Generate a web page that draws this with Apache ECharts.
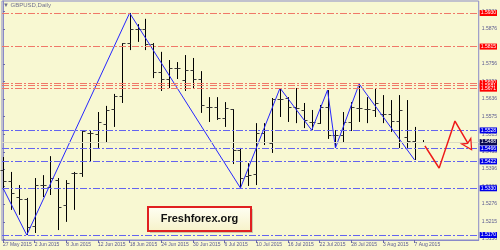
<!DOCTYPE html>
<html><head><meta charset="utf-8">
<script src="https://cdn.jsdelivr.net/npm/echarts@6/dist/echarts.min.js"></script>
<style>html,body{margin:0;padding:0;background:#f8f8d2}#c{width:500px;height:250px}</style>
</head><body><div id="c"></div>
<script>
const dates = ["27 May 2015","28 May 2015","29 May 2015","1 Jun 2015","2 Jun 2015","3 Jun 2015","4 Jun 2015","5 Jun 2015","8 Jun 2015","9 Jun 2015","10 Jun 2015","11 Jun 2015","12 Jun 2015","15 Jun 2015","16 Jun 2015","17 Jun 2015","18 Jun 2015","19 Jun 2015","22 Jun 2015","23 Jun 2015","24 Jun 2015","25 Jun 2015","26 Jun 2015","29 Jun 2015","30 Jun 2015","1 Jul 2015","2 Jul 2015","3 Jul 2015","6 Jul 2015","7 Jul 2015","8 Jul 2015","9 Jul 2015","10 Jul 2015","13 Jul 2015","14 Jul 2015","15 Jul 2015","16 Jul 2015","17 Jul 2015","20 Jul 2015","21 Jul 2015","22 Jul 2015","23 Jul 2015","24 Jul 2015","27 Jul 2015","28 Jul 2015","29 Jul 2015","30 Jul 2015","31 Jul 2015","3 Aug 2015","4 Aug 2015","5 Aug 2015","6 Aug 2015","7 Aug 2015","10 Aug 2015"];
const opens = [1.5393,1.5355,1.5300,1.5293,1.5201,1.5341,1.5334,1.5358,1.5273,1.5382,1.5382,1.5519,1.5516,1.5550,1.5601,1.5646,1.5827,1.5875,1.5875,1.5824,1.5728,1.5704,1.5742,1.5701,1.5735,1.5704,1.5608,1.5608,1.5571,1.5601,1.5461,1.5372,1.5379,1.5519,1.5485,1.5636,1.5639,1.5608,1.5598,1.5557,1.5553,1.5608,1.5512,1.5512,1.5557,1.5605,1.5601,1.5598,1.5584,1.5584,1.5560,1.5505,1.5492,1.5488];
const highs = [1.5437,1.5386,1.5341,1.5297,1.5365,1.5375,1.5440,1.5365,1.5358,1.5386,1.5529,1.5529,1.5591,1.5612,1.5653,1.5827,1.5930,1.5892,1.5910,1.5827,1.5797,1.5769,1.5762,1.5786,1.5776,1.5731,1.5642,1.5642,1.5625,1.5601,1.5468,1.5416,1.5553,1.5553,1.5639,1.5673,1.5642,1.5673,1.5622,1.5598,1.5615,1.5666,1.5529,1.5591,1.5625,1.5687,1.5642,1.5673,1.5649,1.5632,1.5649,1.5632,1.5540,1.5495];
const lows = [1.5324,1.5256,1.5239,1.5170,1.5177,1.5300,1.5307,1.5187,1.5215,1.5256,1.5369,1.5420,1.5468,1.5485,1.5540,1.5622,1.5803,1.5831,1.5803,1.5707,1.5663,1.5673,1.5704,1.5663,1.5673,1.5588,1.5557,1.5564,1.5540,1.5413,1.5331,1.5338,1.5341,1.5478,1.5451,1.5574,1.5557,1.5553,1.5536,1.5529,1.5550,1.5499,1.5468,1.5485,1.5526,1.5557,1.5553,1.5574,1.5553,1.5523,1.5468,1.5468,1.5427,1.5485];
const closes = [1.5355,1.5314,1.5293,1.5197,1.5341,1.5341,1.5365,1.5266,1.5348,1.5384,1.5526,1.5519,1.5557,1.5598,1.5646,1.5827,1.5875,1.5875,1.5824,1.5728,1.5704,1.5742,1.5742,1.5735,1.5704,1.5615,1.5608,1.5571,1.5605,1.5461,1.5365,1.5375,1.5519,1.5488,1.5636,1.5636,1.5608,1.5605,1.5564,1.5557,1.5608,1.5512,1.5512,1.5557,1.5608,1.5605,1.5601,1.5622,1.5584,1.5560,1.5598,1.5492,1.5488,1.5488];
const zigzagIdx = [0,3,16,30,35,39,41,42,45,52];
const zigzagVal = [1.5331,1.5170,1.5930,1.5331,1.5673,1.5529,1.5666,1.5468,1.5687,1.5427];
const redLevels = [1.5930,1.5815,1.5690,1.5681,1.5671];
const blueLevels = [1.5528,1.5466,1.5422,1.5330,1.5170];
const lastPrice = 1.5488;
const priceTicks = [1.5156,1.5215,1.5276,1.5336,1.5396,1.5455,1.5515,1.5575,1.5636,1.5696,1.5756,1.5815,1.5876,1.5936];
const dateTickIdx = [0,4,8,12,16,20,24,28,32,36,40,44,48,52];
const arrowIdx = [53.3,54.2,55.1,57.1,59.2];
const arrowVal = [1.5475,1.5437,1.5399,1.5560,1.5462];

const ohlc = dates.map((d,i)=>[i,opens[i],highs[i],lows[i],closes[i]]);
const chart = echarts.init(document.getElementById('c'));
const dash = [7,2,2,2];
const mlData = [];
redLevels.forEach(v=>mlData.push({yAxis:v,lineStyle:{color:'#f07868',type:dash,width:1},label:{backgroundColor:'#ff0000'}}));
blueLevels.forEach(v=>mlData.push({yAxis:v,lineStyle:{color:'#6464f0',type:dash,width:1},label:{backgroundColor:'#0000e8'}}));
mlData.push({yAxis:lastPrice,lineStyle:{color:'#dcdcc4',type:'solid',width:1},label:{backgroundColor:'#0a0a50'}});

chart.setOption({
  animation:false,
  backgroundColor:'#f8f8d2',
  grid:{left:1,top:1,right:19,bottom:10,show:true,borderColor:'#8a8ac8',borderWidth:1,backgroundColor:'transparent'},
  xAxis:{type:'value',min:-0.125,max:60.1,
    axisLine:{show:true,lineStyle:{color:'#8a8ac8'}},
    axisTick:{show:true,customValues:dateTickIdx,length:3,lineStyle:{color:'#6a6aa8'}},
    axisLabel:{show:true,showMinLabel:true,hideOverlap:false,customValues:dateTickIdx,formatter:v=>dates[Math.round(v)]||'',align:'left',margin:2,fontSize:5,color:'#5a5a90',fontFamily:'Liberation Sans'},
    splitLine:{show:false}},
  yAxis:{type:'value',position:'right',min:1.5153,max:1.5971,scale:true,
    axisLine:{show:true,lineStyle:{color:'#8a8ac8'}},
    axisTick:{show:true,customValues:priceTicks,length:2,lineStyle:{color:'#6a6aa8'}},
    axisLabel:{show:true,customValues:priceTicks,formatter:v=>v.toFixed(4),margin:3,fontSize:5,color:'#5a5a90',fontFamily:'Liberation Sans'},
    splitLine:{show:false}},
  graphic:[
    {type:'text',left:3,top:2,style:{text:'▼ GBPUSD,Daily',fontSize:6,fill:'#707090',fontFamily:'Liberation Sans'},z:10},
    {type:'rect',shape:{x:150,y:209,width:103,height:24},style:{fill:'rgba(0,0,0,0.18)'},z:9},
    {type:'rect',shape:{x:148,y:207,width:103,height:24},style:{fill:{type:'linear',x:0,y:0,x2:0,y2:1,colorStops:[{offset:0,color:'#fffff4'},{offset:1,color:'#f6f2c8'}]},stroke:'#e02020',lineWidth:2},z:10},
    {type:'text',x:199.5,y:219,style:{text:'Freshforex.org',fontSize:11,fontWeight:'bold',fill:'#111',fontFamily:'Liberation Sans',align:'center',verticalAlign:'middle'},z:11}
  ],
  series:[
    {type:'line',data:[[0,lastPrice]],z:1,silent:true,symbol:'none',lineStyle:{opacity:0},
      markLine:{symbol:['none','none'],silent:true,animation:false,precision:4,
        label:{show:true,position:'end',distance:1,formatter:p=>Number(p.value).toFixed(4),color:'#fff',fontSize:5,padding:[1,1,0,1],fontFamily:'Liberation Sans'},
        data:mlData}},
    {type:'custom',z:3,data:ohlc,encode:{x:0,y:[1,2,3,4]},
      renderItem:function(params,api){
        const i=api.value(0);
        const pO=api.coord([i,api.value(1)]);
        const pH=api.coord([i,api.value(2)]);
        const pL=api.coord([i,api.value(3)]);
        const pC=api.coord([i,api.value(4)]);
        const x=Math.round(pH[0])+0.5;
        const yo=Math.round(pO[1])+0.5, yc=Math.round(pC[1])+0.5;
        return {type:'group',children:[
          {type:'line',shape:{x1:x,y1:pH[1],x2:x,y2:pL[1]},style:{stroke:'#000',lineWidth:1}},
          {type:'line',shape:{x1:x-3,y1:yo,x2:x,y2:yo},style:{stroke:'#3a3a3a',lineWidth:1}},
          {type:'line',shape:{x1:x,y1:yc,x2:x+3,y2:yc},style:{stroke:'#3a3a3a',lineWidth:1}}
        ]};
      }},
    {type:'line',z:4,data:zigzagIdx.map((x,i)=>[x,zigzagVal[i]]),symbol:'none',lineStyle:{color:'#2626ff',width:1}},
    {type:'line',z:5,symbol:'none',lineStyle:{color:'#ee1a1a',width:1.5},
      data:arrowIdx.map((x,i)=>{
        const d={value:[x,arrowVal[i]]};
        if(i===arrowIdx.length-1){d.symbol='arrow';d.symbolSize=[8,10];d.symbolRotate=-148;d.itemStyle={color:'#f8f8d2',borderColor:'#ee1a1a',borderWidth:1.3};}
        return d;
      })}
  ]
});
</script></body></html>
